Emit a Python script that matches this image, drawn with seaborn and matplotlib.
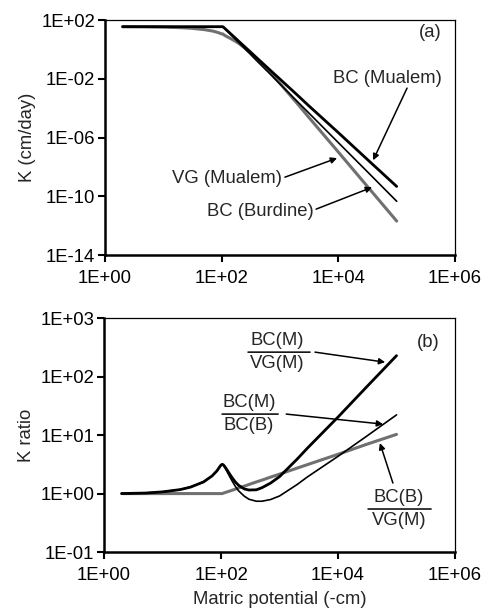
import numpy as np
import matplotlib
matplotlib.use("Agg")
import matplotlib.pyplot as plt
import seaborn as sns
from matplotlib.ticker import FixedLocator, FuncFormatter, NullLocator

# matric potential (-cm)
h = [2, 3, 5, 10, 20, 30, 50, 70, 85, 95, 100, 105, 110, 120, 135, 150, 175,
     200, 250, 300, 400, 500, 700, 1000, 2000, 3000, 10000, 30000, 100000]

# panel (a): hydraulic conductivity (cm/day)
k_bc_mualem = [36, 36, 36, 36, 36, 36, 36, 36, 36, 36, 36, 36, 30.4, 22.1, 14.4,
               9.8, 5.6, 3.4, 1.51, 0.78, 0.27, 0.12, 0.035, 9.6e-3, 7.7e-4,
               1.7e-4, 2.2e-6, 3.9e-8, 4.8e-10]
k_bc_burdine = [36, 36, 36, 36, 36, 36, 36, 36, 36, 36, 36, 36, 29.9, 21.1, 13.2,
                8.7, 4.7, 2.75, 1.13, 0.55, 0.17, 0.071, 0.019, 4.5e-3, 2.8e-4,
                5.6e-5, 4.6e-7, 5.8e-9, 4.7e-11]
k_vg_mualem = [36.3, 36.0, 35.5, 33.9, 30.9, 28.2, 22.9, 18.2, 14.8, 12.6, 11.7,
               11.5, 9.8, 8.0, 6.3, 5.0, 3.5, 2.5, 1.26, 0.68, 0.235, 0.096, 0.023,
               4.9e-3, 2.0e-4, 2.9e-5, 1.05e-7, 6.0e-10, 2.1e-12]

# panel (b): K ratios
r_thick = [1.0, 1.01, 1.02, 1.07, 1.17, 1.29, 1.58, 2.0, 2.45, 2.88, 3.09, 3.16,
           3.09, 2.75, 2.29, 1.95, 1.58, 1.38, 1.20, 1.15, 1.16, 1.26, 1.51,
           1.95, 3.89, 6.0, 20.4, 65, 229]
r_thin = [1.0, 1.01, 1.02, 1.07, 1.17, 1.29, 1.58, 2.0, 2.45, 2.88, 3.09, 3.16,
          3.04, 2.63, 2.10, 1.73, 1.33, 1.11, 0.90, 0.80, 0.74, 0.74, 0.79,
          0.91, 1.43, 1.93, 4.34, 9.4, 22.2]
r_gray = [1, 1, 1, 1, 1, 1, 1, 1, 1, 1, 1, 1, 1.02, 1.05, 1.09, 1.13, 1.19,
          1.25, 1.34, 1.43, 1.58, 1.70, 1.91, 2.15, 2.73, 3.13, 4.7, 6.9, 10.3]

x_ticks = [1, 1e2, 1e4, 1e6]
ya_ticks = [1e-14, 1e-10, 1e-6, 1e-2, 1e2]
yb_ticks = [1e-1, 1, 1e1, 1e2, 1e3]

sns.set_style("ticks")
plt.rcParams['font.family'] = ['Liberation Sans', 'DejaVu Sans']
FS = 13.3
GRAY = '#707070'

fig = plt.figure(figsize=(4.82, 6.12), dpi=100)
ax1 = fig.add_axes([0.218, 0.583, 0.726, 0.384])
ax2 = fig.add_axes([0.216, 0.098, 0.728, 0.382])

fmt = FuncFormatter(lambda v, p: f"{v:.0E}")

for ax, yt in [(ax1, ya_ticks), (ax2, yb_ticks)]:
    ax.set_xscale('log')
    ax.set_yscale('log')
    ax.set_xlim(1, 1e6)
    ax.set_ylim(yt[0], yt[-1])
    ax.xaxis.set_major_locator(FixedLocator(x_ticks))
    ax.yaxis.set_major_locator(FixedLocator(yt))
    ax.xaxis.set_minor_locator(NullLocator())
    ax.yaxis.set_minor_locator(NullLocator())
    ax.xaxis.set_major_formatter(fmt)
    ax.yaxis.set_major_formatter(fmt)
    ax.tick_params(axis='both', direction='out', length=5, width=1.5,
                   labelsize=FS, color='black', labelcolor='black')
    ax.tick_params(axis='x', pad=6)
    ax.tick_params(axis='y', pad=2)
    for s in ['left', 'bottom']:
        ax.spines[s].set_linewidth(1.8)
        ax.spines[s].set_color('black')
    for s in ['top', 'right']:
        ax.spines[s].set_linewidth(0.9)
        ax.spines[s].set_color('black')
        ax.spines[s].set_visible(True)

# panel (a)
sns.lineplot(x=h, y=k_vg_mualem, ax=ax1, color=GRAY, lw=2.2)
sns.lineplot(x=h, y=k_bc_burdine, ax=ax1, color='black', lw=1.2)
sns.lineplot(x=h, y=k_bc_mualem, ax=ax1, color='black', lw=2.0)
ax1.set_xlabel('')
ax1.set_ylabel('K (cm/day)', fontsize=FS, labelpad=4)

arrow = dict(arrowstyle='-|>', lw=1.1, color='black', mutation_scale=9,
             shrinkA=0, shrinkB=0)
ax1.text(0.929, 0.949, '(a)', transform=ax1.transAxes, fontsize=FS,
         ha='center', va='center')
ax1.text(0.806, 0.753, 'BC (Mualem)', transform=ax1.transAxes, fontsize=FS,
         ha='center', va='center')
ax1.annotate('', xy=(0.766, 0.404), xytext=(0.863, 0.711),
             xycoords='axes fraction', textcoords='axes fraction', arrowprops=arrow)
ax1.text(0.349, 0.328, 'VG (Mualem)', transform=ax1.transAxes, fontsize=FS,
         ha='center', va='center')
ax1.annotate('', xy=(0.663, 0.413), xytext=(0.514, 0.332),
             xycoords='axes fraction', textcoords='axes fraction', arrowprops=arrow)
ax1.text(0.443, 0.187, 'BC (Burdine)', transform=ax1.transAxes, fontsize=FS,
         ha='center', va='center')
ax1.annotate('', xy=(0.763, 0.289), xytext=(0.603, 0.196),
             xycoords='axes fraction', textcoords='axes fraction', arrowprops=arrow)

# panel (b)
sns.lineplot(x=h, y=r_gray, ax=ax2, color=GRAY, lw=2.2)
sns.lineplot(x=h, y=r_thin, ax=ax2, color='black', lw=1.2)
sns.lineplot(x=h, y=r_thick, ax=ax2, color='black', lw=2.0)
ax2.set_xlabel('Matric potential (-cm)', fontsize=FS, labelpad=5)
ax2.set_ylabel('K ratio', fontsize=FS, labelpad=4)

ax2.text(0.923, 0.897, '(b)', transform=ax2.transAxes, fontsize=FS,
         ha='center', va='center')


def fraction(ax, num, den, xc, yline, x0, x1):
    ax.text(xc, yline + 0.05, num, transform=ax.transAxes, fontsize=FS,
            ha='center', va='center')
    ax.text(xc, yline - 0.048, den, transform=ax.transAxes, fontsize=FS,
            ha='center', va='center')
    ax.annotate('', xy=(x1, yline), xytext=(x0, yline), xycoords='axes fraction',
                textcoords='axes fraction',
                arrowprops=dict(arrowstyle='-', lw=1.1, color='black',
                                shrinkA=0, shrinkB=0))


fraction(ax2, 'BC(M)', 'VG(M)', 0.493, 0.855, 0.410, 0.587)
ax2.annotate('', xy=(0.801, 0.812), xytext=(0.601, 0.855),
             xycoords='axes fraction', textcoords='axes fraction', arrowprops=arrow)
fraction(ax2, 'BC(M)', 'BC(B)', 0.413, 0.590, 0.336, 0.496)
ax2.annotate('', xy=(0.795, 0.547), xytext=(0.519, 0.590),
             xycoords='axes fraction', textcoords='axes fraction', arrowprops=arrow)
fraction(ax2, 'BC(B)', 'VG(M)', 0.840, 0.184, 0.752, 0.932)
ax2.annotate('', xy=(0.786, 0.466), xytext=(0.823, 0.295),
             xycoords='axes fraction', textcoords='axes fraction', arrowprops=arrow)

fig.savefig('out.png', dpi=100)
